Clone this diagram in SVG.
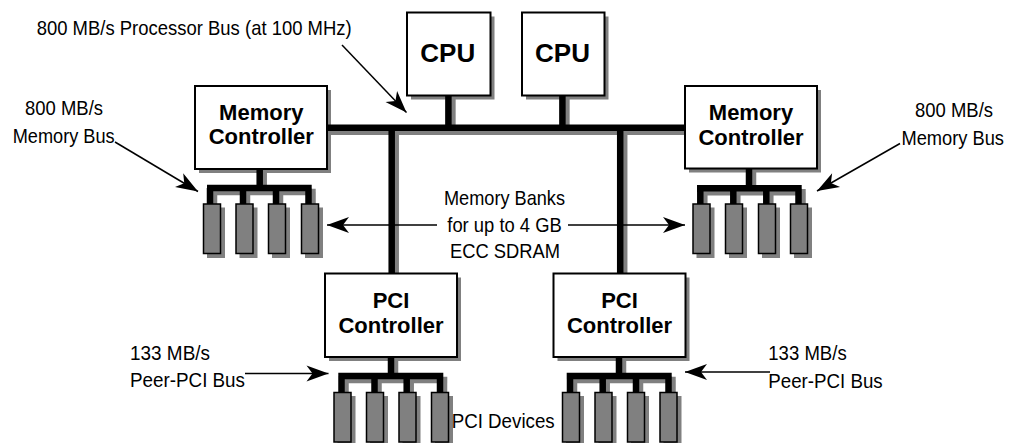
<svg xmlns="http://www.w3.org/2000/svg" width="1018" height="443" viewBox="0 0 1018 443">
<style>
.box{fill:#fff;stroke:#000;stroke-width:2}
.sh{fill:#808080}
.mod{fill:#808080;stroke:#000;stroke-width:1.5}
.bus{stroke:#000;stroke-width:6.5;fill:none}
.bsh{stroke:#808080;stroke-width:6.5;fill:none}
.arr{stroke:#000;stroke-width:1.5;fill:none;marker-end:url(#ah)}
.lbl{font-family:"Liberation Sans",Arial,sans-serif;font-size:21px;fill:#000}
.bold{font-family:"Liberation Sans",Arial,sans-serif;font-weight:bold;font-size:22px;fill:#000;text-anchor:middle}
.cpu{font-size:26px}
</style>
<defs>
<marker id="ah" markerUnits="userSpaceOnUse" markerWidth="24" markerHeight="18" viewBox="-23 -9 24 18" refX="0" refY="0" orient="auto">
<path d="M0,0 L-22,-8 L-16,0 L-22,8 Z" fill="#000"/>
</marker>
</defs>

<g id="shadows">
<rect class="sh" x="411" y="16.5" width="83.5" height="83"/>
<rect class="sh" x="526" y="16.5" width="82.5" height="83"/>
<rect class="sh" x="199" y="90" width="132" height="83"/>
<rect class="sh" x="689" y="90" width="132" height="82.5"/>
<rect class="sh" x="329" y="277.5" width="132" height="83.5"/>
<rect class="sh" x="557.5" y="277.5" width="132" height="83.5"/>
</g>

<g id="connectors">
<g transform="translate(4,4)">
<path class="bsh" d="M327,127.75 H681 M391.7,127.75 V269.5 M620.2,127.75 V269.5 M448.4,91 V127.75 M562.4,91 V127.75"/>
<path class="bsh" d="M259.7,165 V188 M207,188 H311.7 M210,188 V204 M243,188 V204 M276,188 V204 M308.5,188 V204"/>
<path class="bsh" d="M749,164.5 V188.3 M697,188.3 H801.7 M700.3,188.3 V204 M733.3,188.3 V204 M766.3,188.3 V204 M798.5,188.3 V204"/>
<path class="bsh" d="M391,353 V376 M338.3,376 H443.3 M341.5,376 V392 M374.5,376 V392 M406.7,376 V392 M440,376 V392"/>
<path class="bsh" d="M619,353 V376 M566.7,376 H671.7 M570,376 V392 M602.7,376 V392 M636,376 V392 M668.5,376 V392"/>
</g>
<path class="bus" d="M327,127.75 H685 M391.7,127.75 V273.5 M620.2,127.75 V273.5 M448.4,95 V127.75 M562.4,95 V127.75"/>
<path class="bus" d="M259.7,169 V188 M207,188 H311.7 M210,188 V204 M243,188 V204 M276,188 V204 M308.5,188 V204"/>
<path class="bus" d="M749,168.5 V188.3 M697,188.3 H801.7 M700.3,188.3 V204 M733.3,188.3 V204 M766.3,188.3 V204 M798.5,188.3 V204"/>
<path class="bus" d="M391,357 V376 M338.3,376 H443.3 M341.5,376 V392 M374.5,376 V392 M406.7,376 V392 M440,376 V392"/>
<path class="bus" d="M619,357 V376 M566.7,376 H671.7 M570,376 V392 M602.7,376 V392 M636,376 V392 M668.5,376 V392"/>
<path class="arr" d="M342,45 L406.5,112.5"/>
<path class="arr" d="M115,142 L198,191.5"/>
<path class="arr" d="M900,143.5 L817,191"/>
<path class="arr" d="M437,225 H327"/>
<path class="arr" d="M568,225 H685"/>
<path class="arr" d="M245,373.5 H328.5"/>
<path class="arr" d="M770,372 H685"/>
</g>

<g id="cpu1"><rect class="box" x="407" y="12.5" width="83.5" height="83"/><text class="bold cpu" x="447.8" y="62">CPU</text></g>
<g id="cpu2"><rect class="box" x="522" y="12.5" width="82.5" height="83"/><text class="bold cpu" x="562.5" y="62">CPU</text></g>
<g id="memctl-left"><rect class="box" x="195" y="86" width="132" height="83"/><text class="bold" x="261.3" y="120">Memory</text><text class="bold" x="261.3" y="144.3">Controller</text></g>
<g id="memctl-right"><rect class="box" x="685" y="86" width="132" height="82.5"/><text class="bold" x="751" y="120">Memory</text><text class="bold" x="751" y="144.8">Controller</text></g>
<g id="pcictl-left"><rect class="box" x="325" y="273.5" width="132" height="83.5"/><text class="bold" x="391" y="308.3">PCI</text><text class="bold" x="391" y="333.3">Controller</text></g>
<g id="pcictl-right"><rect class="box" x="553.5" y="273.5" width="132" height="83.5"/><text class="bold" x="619.5" y="307.8">PCI</text><text class="bold" x="619.5" y="332.8">Controller</text></g>

<g id="membanks-left">
<rect class="sh" x="207" y="207.5" width="18" height="50.5"/><rect class="sh" x="239.5" y="207.5" width="18" height="50.5"/><rect class="sh" x="272" y="207.5" width="18" height="50.5"/><rect class="sh" x="305" y="207.5" width="18" height="50.5"/>
<rect class="mod" x="203.5" y="204" width="17" height="49.5"/><rect class="mod" x="236" y="204" width="17" height="49.5"/><rect class="mod" x="268.5" y="204" width="17" height="49.5"/><rect class="mod" x="301.5" y="204" width="17" height="49.5"/>
</g>
<g id="membanks-right">
<rect class="sh" x="696.5" y="207.5" width="18" height="50.5"/><rect class="sh" x="729" y="207.5" width="18" height="50.5"/><rect class="sh" x="762" y="207.5" width="18" height="50.5"/><rect class="sh" x="794" y="207.5" width="18" height="50.5"/>
<rect class="mod" x="693" y="204" width="17" height="49.5"/><rect class="mod" x="725.5" y="204" width="17" height="49.5"/><rect class="mod" x="758.5" y="204" width="17" height="49.5"/><rect class="mod" x="790.5" y="204" width="17" height="49.5"/>
</g>
<g id="pcidev-left">
<rect class="sh" x="337.5" y="396" width="18" height="51"/><rect class="sh" x="370" y="396" width="18" height="51"/><rect class="sh" x="402.5" y="396" width="18" height="51"/><rect class="sh" x="435" y="396" width="18" height="51"/>
<rect class="mod" x="334" y="392.5" width="17" height="49.5"/><rect class="mod" x="366.5" y="392.5" width="17" height="49.5"/><rect class="mod" x="399" y="392.5" width="17" height="49.5"/><rect class="mod" x="431.5" y="392.5" width="17" height="49.5"/>
</g>
<g id="pcidev-right">
<rect class="sh" x="566" y="396" width="18" height="51"/><rect class="sh" x="598.5" y="396" width="18" height="51"/><rect class="sh" x="631" y="396" width="18" height="51"/><rect class="sh" x="663.5" y="396" width="18" height="51"/>
<rect class="mod" x="562.5" y="392.5" width="17" height="49.5"/><rect class="mod" x="595" y="392.5" width="17" height="49.5"/><rect class="mod" x="627.5" y="392.5" width="17" height="49.5"/><rect class="mod" x="660" y="392.5" width="17" height="49.5"/>
</g>

<g id="labels">
<text class="lbl" x="36.7" y="34.5" textLength="315" lengthAdjust="spacingAndGlyphs">800 MB/s Processor Bus (at 100 MHz)</text>
<text class="lbl" x="25" y="115" textLength="78" lengthAdjust="spacingAndGlyphs">800 MB/s</text>
<text class="lbl" x="12.7" y="143" textLength="102" lengthAdjust="spacingAndGlyphs">Memory Bus</text>
<text class="lbl" x="915" y="116.5" textLength="78" lengthAdjust="spacingAndGlyphs">800 MB/s</text>
<text class="lbl" x="901.5" y="144.5" textLength="102.5" lengthAdjust="spacingAndGlyphs">Memory Bus</text>
<text class="lbl" x="444" y="205" textLength="121" lengthAdjust="spacingAndGlyphs">Memory Banks</text>
<text class="lbl" x="447.3" y="231.7" textLength="114.4" lengthAdjust="spacingAndGlyphs">for up to 4 GB</text>
<text class="lbl" x="450" y="258.3" textLength="110" lengthAdjust="spacingAndGlyphs">ECC SDRAM</text>
<text class="lbl" x="130" y="360" textLength="80" lengthAdjust="spacingAndGlyphs">133 MB/s</text>
<text class="lbl" x="130" y="386.7" textLength="115" lengthAdjust="spacingAndGlyphs">Peer-PCI Bus</text>
<text class="lbl" x="768.3" y="360" textLength="78.4" lengthAdjust="spacingAndGlyphs">133 MB/s</text>
<text class="lbl" x="768.3" y="387.5" textLength="114.4" lengthAdjust="spacingAndGlyphs">Peer-PCI Bus</text>
<text class="lbl" x="451.7" y="428.3" textLength="103" lengthAdjust="spacingAndGlyphs">PCI Devices</text>
</g>
</svg>
